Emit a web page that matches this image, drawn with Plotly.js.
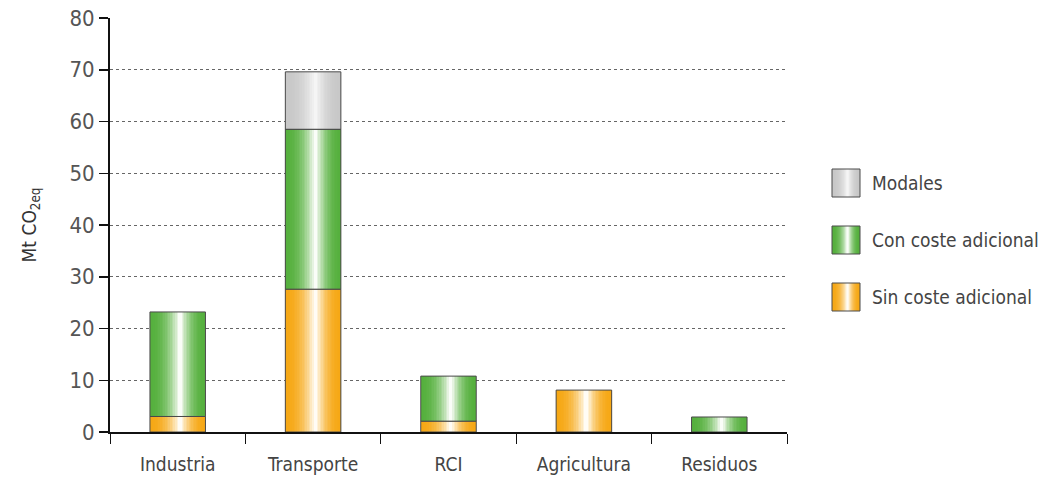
<!DOCTYPE html>
<html>
<head>
<meta charset="utf-8">
<script src="https://cdn.plot.ly/plotly-3.0.1.min.js"></script>
<style>
html,body{margin:0;padding:0;background:#fff;}
#chart{width:1040px;height:484px;}
</style>
</head>
<body>
<div id="chart"></div>
<script>
// ---- data ----
const categories = ['Industria', 'Transporte', 'RCI', 'Agricultura', 'Residuos'];
const sinCoste = [3.0, 27.6, 2.1, 8.1, null];
const conCoste = [20.2, 30.9, 8.7, null, 2.9];
const modales  = [null, 11.1, null, null, null];
const seriesNames = ['Sin coste adicional', 'Con coste adicional', 'Modales'];
const yTitle = 'Mt CO<sub>2eq</sub>';

// ---- styles ----
const FONT = '"Liberation Sans Narrow", "DejaVu Sans Condensed", "Roboto Condensed", "Roboto", sans-serif';
const edgeColors = [[246, 168, 22], [86, 176, 62], [200, 200, 200]];
const centerColors = [[255, 252, 245], [250, 253, 248], [245, 245, 245]];
const BAR_W = 0.41;
const LAYERS = 18;

function mix(e, c, f) {
  return 'rgb(' + e.map((v, i) => Math.round(v + (c[i] - v) * f)).join(',') + ')';
}

const seriesVals = [sinCoste, conCoste, modales];
const traces = [];
let base = categories.map(() => 0);
seriesVals.forEach((vals, si) => {
  const b = base.slice();
  for (let k = 0; k < LAYERS; k++) {
    const t = k / (LAYERS - 1);
    const f = Math.pow(t, 2.2);
    const col = mix(edgeColors[si], centerColors[si], f);
    const w = BAR_W * (1 - 0.94 * t);
    traces.push({
      type: 'bar', x: categories, y: vals, base: b,
      width: categories.map(() => w),
      offset: categories.map(() => -w / 2 + BAR_W * 0.04 * t),
      marker: {color: col, line: {width: 0}},
      showlegend: false, hoverinfo: 'skip'
    });
  }
  // outline
  traces.push({
    type: 'bar', x: categories, y: vals, base: b, name: seriesNames[si],
    width: categories.map(() => BAR_W),
    marker: {color: 'rgba(0,0,0,0)', line: {color: '#4a4a4a', width: 1}},
    showlegend: false
  });
  base = base.map((v, i) => v + (vals[i] || 0));
});

// custom legend (large swatches) from series names
const shapes = [];
const annotations = [];
const legendOrder = [2, 1, 0];
const px = x => (x - 110) / 677;
const py = y => (432 - y) / 414;
legendOrder.forEach((si, idx) => {
  const yc = 183 + idx * 57;
  const steps = 12;
  for (let k = 0; k < steps; k++) {
    const t = k / (steps - 1);
    const f = Math.pow(t, 2.2);
    const col = mix(edgeColors[si], centerColors[si], f);
    const hw = 14 * (1 - 0.92 * t);
    shapes.push({type: 'rect', xref: 'paper', yref: 'paper',
      x0: px(846 - hw + 1.5 * t), x1: px(846 + hw + 1.5 * t),
      y0: py(yc + 14), y1: py(yc - 14),
      fillcolor: col, line: {width: 0}});
  }
  shapes.push({type: 'rect', xref: 'paper', yref: 'paper',
    x0: px(832), x1: px(860), y0: py(yc + 14), y1: py(yc - 14),
    fillcolor: 'rgba(0,0,0,0)', line: {color: '#4a4a4a', width: 1}});
  annotations.push({xref: 'paper', yref: 'paper', x: px(870), y: py(yc),
    xanchor: 'left', yanchor: 'middle', showarrow: false, text: seriesNames[si],
    font: {family: FONT, size: 19, color: '#444'}});
});

const layout = {
  width: 1040, height: 484,
  margin: {l: 110, r: 253, t: 18, b: 52},
  paper_bgcolor: '#fff', plot_bgcolor: '#fff',
  barmode: 'overlay', bargap: 0,
  showlegend: false,
  font: {family: FONT, color: '#444'},
  xaxis: {
    type: 'category', range: [-0.5, 4.5],
    showline: true, linecolor: '#111', linewidth: 2,
    ticks: 'outside', tickson: 'boundaries', ticklen: 10, tickcolor: '#111', tickwidth: 1,
    ticklabelstandoff: 14,
    showgrid: false, zeroline: false,
    tickfont: {family: FONT, size: 19, color: '#444'}
  },
  yaxis: {
    range: [0, 80], tickvals: [0, 10, 20, 30, 40, 50, 60, 70, 80],
    showline: true, linecolor: '#111', linewidth: 2,
    ticks: 'outside', ticklen: 9, tickcolor: '#111', tickwidth: 1.5,
    showgrid: true, gridcolor: '#666', griddash: 'dot', gridwidth: 1,
    zeroline: false,
    tickfont: {family: FONT, size: 22, color: '#555'},
    title: {text: yTitle, standoff: 28, font: {family: FONT, size: 19, color: '#333'}}
  },
  shapes: shapes,
  annotations: annotations
};

Plotly.newPlot('chart', traces, layout, {displayModeBar: false, staticPlot: true});
</script>
</body>
</html>
